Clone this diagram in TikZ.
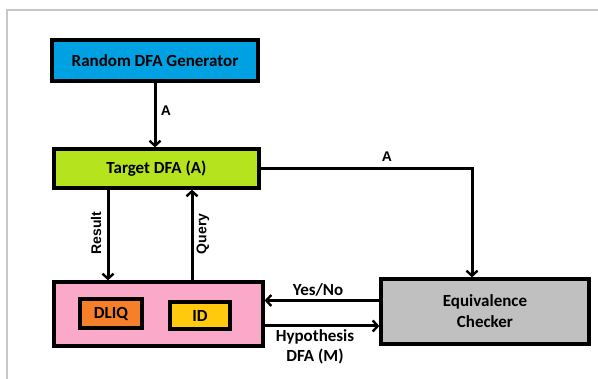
\documentclass[tikz,border=0pt]{standalone}
\usepackage{fontspec}
\newfontfamily\calfont{Carlito}
\newfontfamily\arifont{Liberation Sans}
\usetikzlibrary{arrows.meta}
\definecolor{genblue}{RGB}{0,161,226}
\definecolor{tgreen}{RGB}{181,228,30}
\definecolor{lpink}{RGB}{250,170,200}
\definecolor{dorange}{RGB}{246,128,42}
\definecolor{idyellow}{RGB}{255,201,14}
\definecolor{ecgrey}{RGB}{192,192,192}
\definecolor{framegrey}{RGB}{200,200,200}
\tikzset{
  box/.style={draw=black, line width=3.3pt, inner sep=0pt, align=center,
    font=\calfont\bfseries\fontsize{17}{21}\selectfont},
  arr/.style={line width=3pt, -{Straight Barb[length=5pt,width=11pt,line width=2.4pt]}},
  clab/.style={font=\calfont\bfseries\fontsize{17}{20}\selectfont, align=center, inner sep=0pt},
  alab/.style={font=\arifont\bfseries\fontsize{14}{16}\selectfont, inner sep=0pt},
}
\begin{document}
\begin{tikzpicture}[x=1pt,y=-1pt]
\useasboundingbox (0,0) rectangle (598,379);
\draw[framegrey, line width=1.5pt] (7,379) -- (7,10) -- (598,10);

\node[box, fill=genblue, minimum width=206pt, minimum height=41pt] (gen) at (155,60.5) {Random DFA Generator};
\node[box, fill=tgreen, minimum width=205pt, minimum height=39pt] (target) at (156.5,168.5) {Target DFA (A)};
\node[box, fill=lpink, minimum width=209pt, minimum height=64pt] (learner) at (158.5,314) {};
\node[box, fill=dorange, minimum width=62pt, minimum height=29pt] (dliq) at (111,313.5) {DLIQ};
\node[box, fill=idyellow, minimum width=60pt, minimum height=27pt] (id) at (200,315.5) {ID};
\node[box, fill=ecgrey, minimum width=208pt, minimum height=65pt] (ec) at (485,311.5) {Equivalence\\Checker};

% Generator -> Target
\draw[arr] (gen.south) -- (gen.south |- target.north);
\node[alab] (la1) at (166,111) {A};

% Target -> Equivalence checker
\draw[arr] (target.east) -| ([xshift=-13pt]ec.north);
\node[alab] (la2) at (387,157) {A};

% Result
\draw[arr] ([xshift=-48.5pt]target.south) -- ([xshift=-50.5pt]learner.north);
\node[alab, rotate=90] (lres) at (96,233) {Result};

% Query
\draw[arr] ([xshift=33.5pt]learner.north) -- ([xshift=35.5pt]target.south);
\node[alab, rotate=90] (lq) at (203,234) {Query};

% Yes/No
\draw[arr] ([yshift=11pt]ec.west) -- ([yshift=11pt]ec.west -| learner.east);
\node[clab] (lyn) at (318,290) {Yes/No};

% Hypothesis
\draw[arr] ([yshift=-14.5pt]ec.west -| learner.east) -- ([yshift=-14.5pt]ec.west);
\node[clab] (lhyp) at (315,347) {Hypothesis\\DFA (M)};
\end{tikzpicture}
\end{document}
